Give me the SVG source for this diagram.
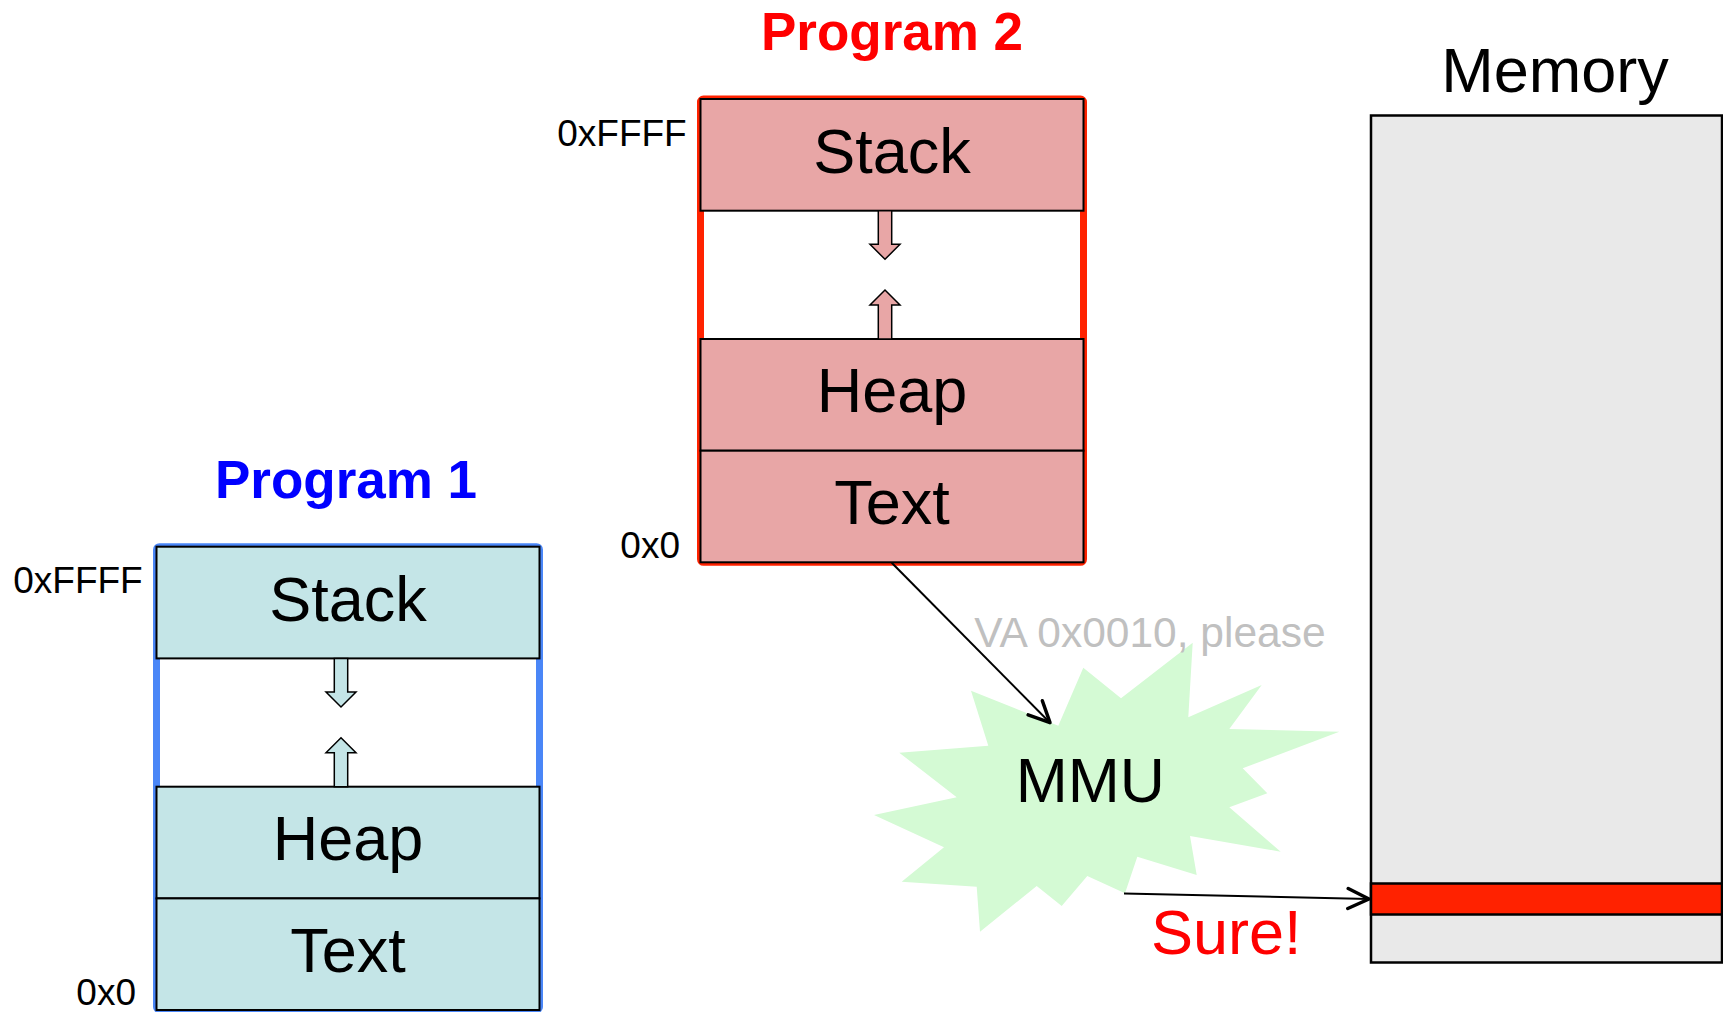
<svg xmlns="http://www.w3.org/2000/svg" width="1723" height="1012" viewBox="0 0 1723 1012">
<style>
text{font-family:"Liberation Sans",Arial,Helvetica,sans-serif}
.title{font-weight:bold;font-size:53px;text-anchor:middle}
.seg{stroke:#000;stroke-width:2}
.p1 .seg,.p1 .arr{fill:#c4e5e7}
.p2 .seg,.p2 .arr{fill:#e8a6a6}
.arr{stroke:#000;stroke-width:1.5;stroke-linejoin:miter}
.lbl{font-size:63px;text-anchor:middle;fill:#000}
.addr{font-size:37px;text-anchor:end;fill:#000}
.conn{stroke:#000;stroke-width:2;fill:none}
</style>
<defs>
<marker id="open" viewBox="0 0 26 26" refX="23" refY="13" markerWidth="26" markerHeight="26" markerUnits="userSpaceOnUse" orient="auto">
<path d="M2,3 L23,13 L2,23" fill="none" stroke="#000" stroke-width="3.5" stroke-linecap="round" stroke-linejoin="round"/>
</marker>
</defs>
<rect width="1723" height="1012" fill="#fff"/>

<g id="memory">
<text x="1555" y="92" font-size="63" text-anchor="middle" fill="#000">Memory</text>
<rect x="1371" y="115.5" width="351" height="847" fill="#e9e9e9" stroke="#000" stroke-width="2.5"/>
<rect x="1371" y="883.5" width="351" height="31" fill="#ff2200" stroke="#000" stroke-width="2.5"/>
</g>

<g id="program2" class="p2" transform="translate(700.5,99)">
<text class="title" x="191.5" y="-49" fill="#ff0000">Program 2</text>
<rect x="0" y="0" width="383" height="463.3" rx="3" fill="#fff" stroke="#ff2200" stroke-width="7"/>
<rect class="seg" x="0" y="0" width="383" height="111.7"/>
<rect class="seg" x="0" y="240" width="383" height="111.7"/>
<rect class="seg" x="0" y="351.7" width="383" height="111.6"/>
<polygon class="arr" points="177.8,111.7 191.2,111.7 191.2,145.3 199.5,145.3 184.5,160.3 169.5,145.3 177.8,145.3"/>
<polygon class="arr" points="177.8,240 191.2,240 191.2,206 199.5,206 184.5,191 169.5,206 177.8,206"/>
<text class="lbl" x="191.5" y="74.3">Stack</text>
<text class="lbl" x="191.5" y="313.3">Heap</text>
<text class="lbl" x="191.5" y="425">Text</text>
<text class="addr" x="-13.8" y="46.7">0xFFFF</text>
<text class="addr" x="-20.5" y="458.7">0x0</text>
</g>

<g id="program1" class="p1" transform="translate(156.5,546.7)">
<text class="title" x="189.5" y="-48.4" fill="#0000ff">Program 1</text>
<rect x="0" y="0" width="383" height="463.3" rx="3" fill="#fff" stroke="#4a86f7" stroke-width="7"/>
<rect class="seg" x="0" y="0" width="383" height="111.7"/>
<rect class="seg" x="0" y="240" width="383" height="111.7"/>
<rect class="seg" x="0" y="351.7" width="383" height="111.6"/>
<polygon class="arr" points="177.8,111.7 191.2,111.7 191.2,145.3 199.5,145.3 184.5,160.3 169.5,145.3 177.8,145.3"/>
<polygon class="arr" points="177.8,240 191.2,240 191.2,206 199.5,206 184.5,191 169.5,206 177.8,206"/>
<text class="lbl" x="191.5" y="74.3">Stack</text>
<text class="lbl" x="191.5" y="313.3">Heap</text>
<text class="lbl" x="191.5" y="425">Text</text>
<text class="addr" x="-13.8" y="46.7">0xFFFF</text>
<text class="addr" x="-20.5" y="458.7">0x0</text>
</g>

<g id="mmu">
<polygon fill="#d4fad4" points="971,690.7 988.3,745.7 899.3,752.7 956.7,797.3 874,815 944,847.3 901.7,881.7 976.7,886.7 980,931.7 1036.7,886 1061.7,906 1087.3,876 1125,893.3 1137.3,856.7 1196.7,875 1190,836 1280.7,851.7 1229.3,807.3 1267.3,793.3 1242.7,768.3 1339.3,731.7 1229.3,729 1261.7,685 1188.3,717.3 1192.7,642.7 1121,698.3 1083.3,667.7 1058.3,725.7"/>
<text x="1090.3" y="801.7" font-size="62.5" text-anchor="middle" fill="#000">MMU</text>
</g>

<g id="connectors">
<line class="conn" x1="891.7" y1="562.7" x2="1050" y2="722.7" marker-end="url(#open)"/>
<line class="conn" x1="1124" y1="893.5" x2="1369" y2="899" marker-end="url(#open)"/>
<text x="974.3" y="647.3" font-size="42.5" fill="#c0c0c0">VA 0x0010, please</text>
<text x="1226.3" y="954" font-size="63" text-anchor="middle" fill="#ff0000">Sure!</text>
</g>
</svg>
